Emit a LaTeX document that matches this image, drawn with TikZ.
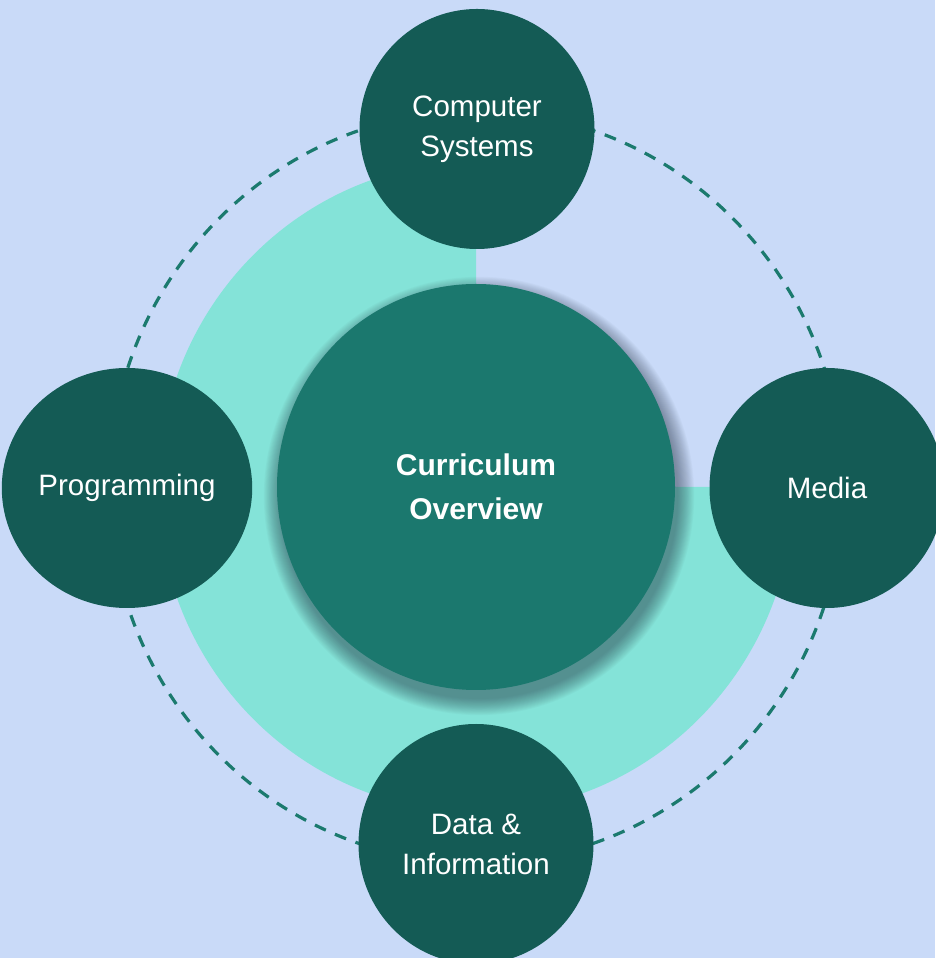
\documentclass[tikz,border=0pt]{standalone}
\usepackage{fontspec}
\setmainfont{Liberation Sans}
\usetikzlibrary{shapes.geometric}
\definecolor{bgblue}{HTML}{C9DAF8}
\definecolor{turq}{HTML}{84E3D8}
\definecolor{midteal}{HTML}{1B786E}
\definecolor{darkteal}{HTML}{145B55}
\definecolor{dashteal}{HTML}{1B7A6E}
\definecolor{shadowc}{HTML}{1E2A3A}
\tikzset{
  topic/.style={ellipse, fill=darkteal, draw=none, inner sep=0pt,
    minimum width=235pt, minimum height=240pt, text=white, align=center,
    font=\fontsize{29.5}{40}\selectfont},
  hub/.style={ellipse, fill=midteal, draw=none, inner sep=0pt,
    minimum width=398pt, minimum height=406pt, text=white, align=center,
    font=\fontsize{30}{44}\selectfont\bfseries},
  ring/.style={draw=dashteal, line width=3.2pt, dash pattern=on 12pt off 10pt},
  shadowring/.style={fill=shadowc, fill opacity=0.027, draw=none}
}
\begin{document}
\begin{tikzpicture}[x=1pt,y=1pt]
\fill[bgblue] (0,0) rectangle (935,958);
\useasboundingbox (0,0) rectangle (935,958);
\coordinate (C) at (476,471);
\coordinate (S) at (479,462);
\fill[turq] (C) -- ++(0,325) arc[start angle=90, end angle=360, x radius=318, y radius=325] -- cycle;
\draw[ring] (C) ellipse [x radius=367, y radius=376];
\foreach \i in {0,...,18} {
  \fill[shadowring] (S) ellipse [x radius={199+\i*0.9}, y radius={203+\i*0.9}];
}
\node[hub] (hub) at (C) {Curriculum\\Overview};
\node[topic] (sys) at (477,829) {Computer\\Systems};
\node[topic] (prog) at (127,470) {Programming};
\node[topic] (media) at (827,470) {Media};
\node[topic] (data) at (476,114) {Data \&\\Information};
\end{tikzpicture}
\end{document}
